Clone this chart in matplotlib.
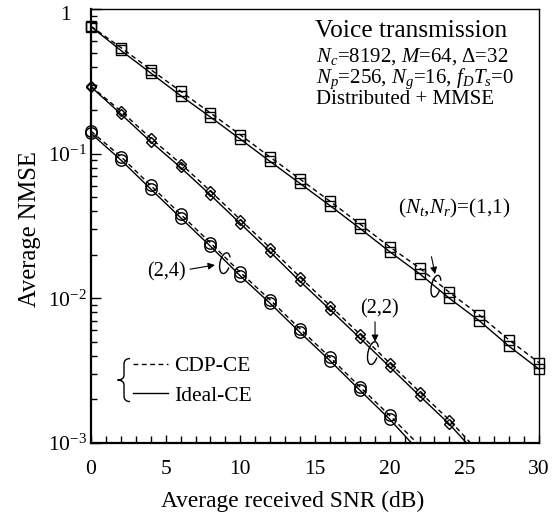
import numpy as np
import matplotlib
matplotlib.use('Agg')
import matplotlib.pyplot as plt
from matplotlib.lines import Line2D
from matplotlib.patches import Arc, PathPatch
from matplotlib.path import Path
from matplotlib.transforms import ScaledTranslation, Affine2D
from matplotlib.ticker import FixedLocator, FixedFormatter, MultipleLocator, LogLocator, NullFormatter

plt.rcParams['font.family'] = ['Liberation Serif', 'DejaVu Serif']
plt.rcParams['mathtext.fontset'] = 'custom'
plt.rcParams['mathtext.rm'] = 'Liberation Serif'
plt.rcParams['mathtext.it'] = 'Liberation Serif:italic'

# ---- data ----
snr_11 = [0, 2, 4, 6, 8, 10, 12, 14, 16, 18, 20, 22, 24, 26, 28, 30]
nmse_11_ideal = [0.755, 0.517, 0.361, 0.252, 0.179, 0.126, 0.0883, 0.0622, 0.0438, 0.0305,
                 0.0210, 0.0148, 0.0100, 0.00700, 0.00466, 0.00324]
nmse_11_cdp = [0.760, 0.541, 0.381, 0.270, 0.191, 0.135, 0.0946, 0.0667, 0.0469, 0.0327,
               0.0227, 0.0162, 0.0110, 0.00767, 0.00515, 0.00359]

snr_22 = [0, 2, 4, 6, 8, 10, 12, 14, 16, 18, 20, 22, 24, 26]
nmse_22_ideal = [0.290, 0.188, 0.121, 0.0803, 0.0518, 0.0329, 0.0209, 0.0131, 0.00837,
                 0.00532, 0.00336, 0.00212, 0.00135, 0.00080]
nmse_22_cdp = [0.292, 0.197, 0.128, 0.0854, 0.0551, 0.0350, 0.0223, 0.0140, 0.00890,
               0.00566, 0.00357, 0.00226, 0.00144, 0.00086]

snr_24 = [0, 2, 4, 6, 8, 10, 12, 14, 16, 18, 20, 22]
nmse_24_ideal = [0.138, 0.0904, 0.0570, 0.0361, 0.0229, 0.0143, 0.00922, 0.00581, 0.00371,
                 0.00232, 0.00146, 0.00087]
nmse_24_cdp = [0.143, 0.0955, 0.0603, 0.0381, 0.0242, 0.0151, 0.00974, 0.00614, 0.00391,
               0.00245, 0.00155, 0.00096]

x_ticks = [0, 5, 10, 15, 20, 25, 30]
y_ticks = [1e-3, 1e-2, 1e-1, 1]
y_tick_labels = [r'$10^{-3}$', r'$10^{-2}$', r'$10^{-1}$', '']
top_label = '1'

YMIN, YMAX = 1e-3, 1.0

fig = plt.figure(figsize=(5.59, 5.14), dpi=100)
ax = fig.add_axes([91/559, 71/514, 448/559, 434/514])
ax.set_yscale('log')
ax.set_xlim(0, 30)
ax.set_ylim(YMIN, YMAX)

dash = (3.5, 2.5)
series = [
    (snr_11, nmse_11_ideal, nmse_11_cdp, 's', 6.5),
    (snr_22, nmse_22_ideal, nmse_22_cdp, 'D', 5.4),
    (snr_24, nmse_24_ideal, nmse_24_cdp, 'o', 8.2),
]
for xs, ideal, cdp, mk, ms in series:
    xs = np.array(xs, dtype=float)
    for vals, ls in ((np.array(ideal), '-'), (np.array(cdp), '--')):
        ln, = ax.plot(xs, vals, color='k', lw=1.0, ls=ls)
        if ls == '--':
            ln.set_dashes(dash)
        m = vals >= YMIN
        ax.plot(xs[m], vals[m], ls='none', marker=mk, ms=ms, mfc='none',
                mec='k', mew=1.0, clip_on=False)

# ticks
ax.xaxis.set_major_locator(FixedLocator(x_ticks))
ax.xaxis.set_minor_locator(MultipleLocator(1))
ax.yaxis.set_major_locator(FixedLocator(y_ticks))
ax.yaxis.set_major_formatter(FixedFormatter(y_tick_labels))
ax.yaxis.set_minor_locator(LogLocator(base=10, subs=np.arange(2, 10)))
ax.yaxis.set_minor_formatter(NullFormatter())
ax.tick_params(axis='both', which='both', direction='in', top=False, right=False,
               labelsize=15.5, width=1.0)
ax.tick_params(axis='x', which='major', length=6, pad=12)
ax.tick_params(axis='x', which='minor', length=5)
ax.tick_params(axis='y', which='major', length=7, pad=3)
ax.tick_params(axis='y', which='minor', length=4)
for s in ('left', 'bottom'):
    ax.spines[s].set_linewidth(1.6)
for s in ('top', 'right'):
    ax.spines[s].set_linewidth(1.0)
ax.text(-0.058, 0.986, top_label, transform=ax.transAxes, fontsize=15.5,
        ha='center', va='center')

ax.set_xlabel('Average received SNR (dB)', fontsize=16.8, labelpad=9, x=0.451)
ax.set_ylabel('Average NMSE', fontsize=17.7, labelpad=5, y=0.493)

# info text
ax.text(0.5, 0.949, 'Voice transmission', transform=ax.transAxes, fontsize=18.3,
        ha='left', va='center')
ax.text(0.502, 0.890, r'$N_c$=8192, $M$=64, Δ=32', transform=ax.transAxes, fontsize=15,
        ha='left', va='center')
ax.text(0.502, 0.839, r'$N_p$=256, $N_g$=16, $f_DT_s$=0', transform=ax.transAxes,
        fontsize=15, ha='left', va='center')
ax.text(0.502, 0.791, 'Distributed + MMSE', transform=ax.transAxes, fontsize=15,
        ha='left', va='center')

# annotations
arrow = dict(arrowstyle='-|>', color='k', lw=0.8, mutation_scale=10, shrinkA=0, shrinkB=0)
ax.text(24.3, 0.0421, r'($N_t$,$N_r$)=(1,1)', fontsize=15.3, ha='center', va='center')
ax.annotate('', xy=(23.04, 0.0147), xytext=(22.8, 0.0194), arrowprops=arrow)
ax.text(19.29, 0.00842, '(2,2)', fontsize=14.5, ha='center', va='center')
ax.annotate('', xy=(19.02, 0.0050), xytext=(19.02, 0.00688), arrowprops=arrow)
ax.text(5.07, 0.01525, '(2,4)', fontsize=14.5, ha='center', va='center')
ax.annotate('', xy=(8.30, 0.0170), xytext=(6.63, 0.0159), arrowprops=arrow)


def px_transform(fx, fy):
    # local coordinates in pixels, anchored at axes-fraction (fx, fy)
    return Affine2D().scale(0.01) + fig.dpi_scale_trans + ScaledTranslation(fx, fy, ax.transAxes)


def ellipse_at(xd, yd, w_px, h_px):
    fx = xd / 30.0
    fy = (np.log10(yd) - np.log10(YMIN)) / (np.log10(YMAX) - np.log10(YMIN))
    arc = Arc((0, 0), w_px, h_px, angle=-12, theta1=60, theta2=325,
              transform=px_transform(fx, fy), color='k', lw=1.0)
    ax.add_patch(arc)

ellipse_at(23.1, 0.01214, 9, 22)
ellipse_at(18.88, 0.00418, 10, 23)
ellipse_at(8.97, 0.0175, 10, 21)

# legend
h_cdp = Line2D([], [], color='k', lw=1.0, ls='--', dashes=dash)
h_ideal = Line2D([], [], color='k', lw=1.0, ls='-')
ax.legend([h_cdp, h_ideal], ['CDP-CE', 'Ideal-CE'], loc='center left',
          bbox_to_anchor=(0.094, 0.143), frameon=False, fontsize=15.5,
          handlelength=1.6, handletextpad=0.3, labelspacing=0.45,
          borderpad=0, borderaxespad=0)

# curly brace grouping the legend entries
bv = [(6, 21.5), (2, 21.5), (0, 19.5), (0, 16), (0, 5), (0, 1.5), (-3, 0), (-6.5, 0),
      (-3, 0), (0, -1.5), (0, -5), (0, -16), (0, -19.5), (2, -21.5), (6, -21.5)]
bc = [Path.MOVETO, Path.CURVE4, Path.CURVE4, Path.CURVE4, Path.LINETO,
      Path.CURVE4, Path.CURVE4, Path.CURVE4, Path.CURVE4, Path.CURVE4, Path.CURVE4,
      Path.LINETO, Path.CURVE4, Path.CURVE4, Path.CURVE4]
brace = PathPatch(Path(bv, bc), facecolor='none', edgecolor='k', lw=1.0,
                  transform=px_transform(0.0737, 0.145))
ax.add_patch(brace)

fig.savefig('out.png', dpi=100)
